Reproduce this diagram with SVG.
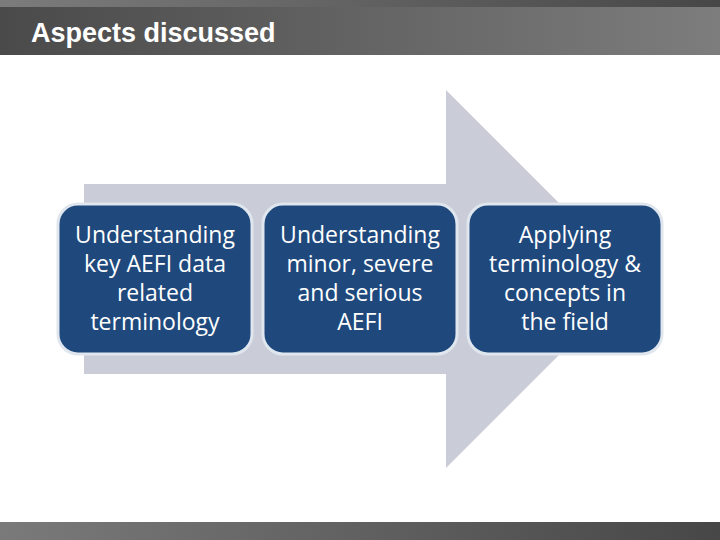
<svg xmlns="http://www.w3.org/2000/svg" width="720" height="540" viewBox="0 0 720 540">
<defs>
<linearGradient id="gTop" x1="0" y1="0" x2="1" y2="0"><stop offset="0" stop-color="#7c7c7c"/><stop offset="1" stop-color="#474747"/></linearGradient>
<linearGradient id="gHead" x1="0" y1="0" x2="1" y2="0"><stop offset="0" stop-color="#4a4a4a"/><stop offset="1" stop-color="#7d7d7d"/></linearGradient>
<linearGradient id="gFoot" x1="0" y1="0" x2="1" y2="0"><stop offset="0" stop-color="#7a7a7a"/><stop offset="1" stop-color="#474747"/></linearGradient>
<style>
.box{fill:#1f497d;stroke:#dfe6ee;stroke-width:3}
.t{fill:#ffffff;font-family:"Open Sans","Noto Sans",sans-serif;font-size:23px;text-anchor:middle}
.title{fill:#ffffff;font-family:"Liberation Sans",Arial,sans-serif;font-weight:bold;font-size:27px}
</style>
</defs>
<rect x="0" y="0" width="720" height="540" fill="#ffffff"/>
<rect x="0" y="0" width="720" height="7" fill="url(#gTop)"/>
<rect x="0" y="7" width="720" height="48" fill="url(#gHead)"/>
<text class="title" x="31" y="42">Aspects discussed</text>
<rect x="0" y="522" width="720" height="18" fill="url(#gFoot)"/>
<polygon points="84,184 446,184 446,90 635,279 446,468 446,374 84,374" fill="#cacdd7"/>
<g id="node1">
<rect class="box" x="58" y="204" width="194" height="150" rx="20"/>
<text class="t"><tspan x="155" y="243">Understanding</tspan><tspan x="155" y="272">key AEFI data</tspan><tspan x="155" y="301">related</tspan><tspan x="155" y="330">terminology</tspan></text>
</g>
<g id="node2">
<rect class="box" x="263" y="204" width="194" height="150" rx="20"/>
<text class="t"><tspan x="360" y="243">Understanding</tspan><tspan x="360" y="272">minor, severe</tspan><tspan x="360" y="301">and serious</tspan><tspan x="360" y="330">AEFI</tspan></text>
</g>
<g id="node3">
<rect class="box" x="468" y="204" width="194" height="150" rx="20"/>
<text class="t"><tspan x="565" y="243">Applying</tspan><tspan x="565" y="272">terminology &amp;</tspan><tspan x="565" y="301">concepts in</tspan><tspan x="565" y="330">the field</tspan></text>
</g>
<g id="connectors"/>
</svg>
